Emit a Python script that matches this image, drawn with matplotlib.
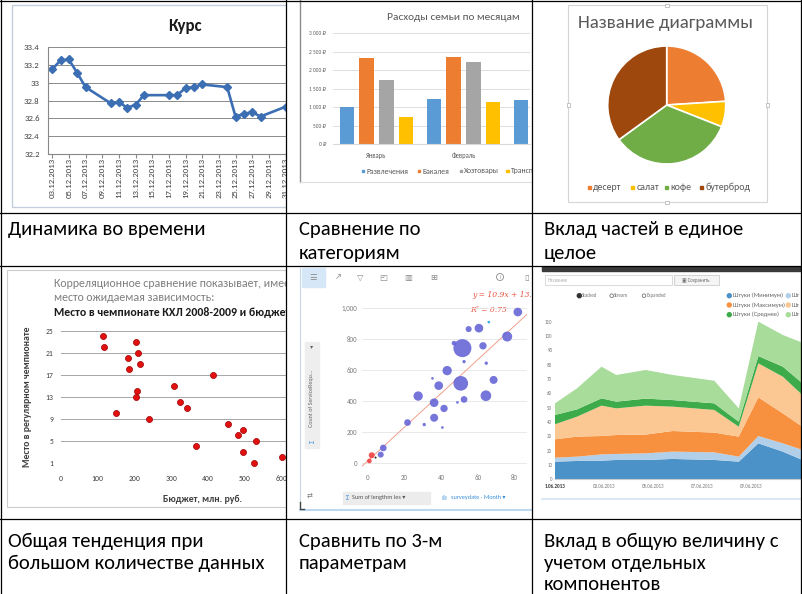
import numpy as np
import matplotlib.pyplot as plt
import matplotlib.transforms as mtransforms
from matplotlib import font_manager
from matplotlib.patches import Rectangle, Circle

W, H = 802, 594

# ---------- данные ----------
# 1. Курс
kurs_days = [3, 4, 5, 6, 7, 10, 11, 12, 13, 14, 17, 18, 19, 20, 21, 24, 25, 26, 27, 28, 31]
kurs_values = [33.15, 33.25, 33.26, 33.11, 32.95, 32.77, 32.78, 32.72, 32.75, 32.86, 32.86,
               32.86, 32.94, 32.95, 32.98, 32.95, 32.62, 32.65, 32.67, 32.62, 32.73]
kurs_label_days = list(range(3, 32, 2))

# 2. Расходы семьи по месяцам (None - столбец за краем картинки)
months = ['Январь', 'Февраль', 'Март']
expense_names = ['Развлечения', 'Бакалея', 'Хозтовары', 'Транспорт']
razvlecheniya = [990, 1230, 1185]
bakaleya = [2320, 2370, None]
hoztovary = [1735, 2225, None]
transport = [740, 1130, None]

# 3. Pie
pie_labels = ['десерт', 'салат', 'кофе', 'бутерброд']
pie_values = [24, 7, 34, 35]

# 4. КХЛ: бюджет и место
budget = [114, 118, 182, 186, 205, 211, 214, 206, 205, 150, 240, 309, 325, 343, 367, 414,
          455, 482, 497, 497, 532, 526, 602]
place = [24, 22, 20, 18, 23, 21, 19, 14, 13, 10, 9, 15, 12, 11, 4, 17, 8, 6, 7, 3, 5, 1, 2]

# 5. Bubble
bub_x = [81.8, 66, 60.6, 55, 76, 47, 51.6, 62.8, 52.5, 64.6, 43.3, 35.3, 38.7, 50.7, 68.6,
         27.5, 36.2, 48.9, 52.5, 64.4, 41.6, 36.2, 21.7, 30.8, 40.7, 8.5, 7.1, 2.2, 0.9, 4.3]
bub_y = [974, 909, 870, 864, 816, 773, 741, 756, 654, 644, 596, 546, 499, 514, 536,
         432, 389, 391, 410, 434, 352, 292, 261, 248, 229, 97, 54, 50, 13, 35]
bub_size = [13, 4, 13, 9, 15, 7, 27, 11, 5, 5, 14, 4, 13, 22, 12,
            14, 13, 4, 10, 16, 11, 12, 10, 5, 4, 10, 9, 9, 7, 3]
bub_group = ['b', 'c', 'b', 'b', 'b', 'b', 'b', 'b', 'b', 'b', 'b', 'b', 'b', 'b', 'b',
             'b', 'b', 'b', 'b', 'b', 'b', 'b', 'b', 'b', 'b', 'b', 'b', 'r', 'r', 'k']
trend_slope, trend_intercept = 10.9, 13

# 6. Stacked area
area_days = [1.0, 1.9, 2.9, 3.5, 4.7, 5.8, 7.5, 8.5, 9.3, 10.3, 11.1]
min_qty = [12.3, 12.8, 13.0, 13.5, 13.5, 14.2, 13.5, 12.3, 25.1, 19.3, 13.5]
min_qty2 = [2.8, 3.0, 4.4, 4.2, 4.6, 5.1, 5.3, 3.5, 5.1, 5.8, 7.0]
max_qty = [12.8, 14.0, 12.8, 13.2, 13.1, 14.4, 13.8, 14.0, 27.0, 20.9, 16.2]
max_qty2 = [10.5, 13.9, 21.2, 18.6, 20.2, 17.0, 15.8, 6.9, 23.7, 25.6, 22.1]
avg_qty = [6.5, 5.1, 5.1, 4.7, 4.9, 4.6, 4.6, 3.5, 5.1, 7.0, 8.2]
avg_qty2 = [8.1, 14.7, 22.1, 18.6, 20.0, 17.5, 15.8, 9.3, 24.0, 22.1, 28.3]
# правый столбец легенды на картинке обрезан краем: видно только «Шт»
area_legend = ['Штуки (Минимум)', 'Шт', 'Штуки (Максимум)', 'Шт', 'Штуки (Среднее)', 'Шт']
area_tick_days = [1, 3, 5, 7, 9]
area_tick_labels = ['1.06.2013', '03.06.2013', '05.06.2013', '07.06.2013', '09.06.2013']

# подписи таблицы
captions_top = [['Динамика во времени'], ['Сравнение по', 'категориям'], ['Вклад частей в единое', 'целое']]
captions_bottom = [['Общая тенденция при', 'большом количестве данных'], ['Сравнить по 3-м', 'параметрам'],
                   ['Вклад в общую величину с', 'учетом отдельных', 'компонентов']]

# ---------- шрифты ----------
installed = {f.name for f in font_manager.fontManager.ttflist}


def pick(*names):
    for n in names:
        if n in installed:
            return n
    return 'DejaVu Sans'


NARROW = pick('Carlito', 'Liberation Sans Narrow', 'Open Sans')
FAM = [NARROW, 'DejaVu Sans']
plt.rcParams['font.family'] = FAM

fig = plt.figure(figsize=(W / 100, H / 100), dpi=100)
fig.patch.set_facecolor('white')
renderer = fig.canvas.get_renderer()


def fit_size(text, width_px, weight='normal', family=None):
    t = fig.text(0, 0, text, fontsize=10, fontweight=weight, family=family or FAM)
    w = t.get_window_extent(renderer).width
    t.remove()
    return 10 * width_px / w


def px_ax(x0, y0, x1, y1):
    ax = fig.add_axes([x0 / W, 1 - y1 / H, (x1 - x0) / W, (y1 - y0) / H])
    ax.set_facecolor('none')
    return ax


def cell(x0, y0, x1, y1):
    ax = px_ax(x0, y0, x1, y1)
    ax.set_xlim(x0, x1)
    ax.set_ylim(y1, y0)
    ax.axis('off')
    return ax


def no_spines(ax, keep=()):
    for name, sp in ax.spines.items():
        sp.set_visible(name in keep)


# ---------- 1. Курс ----------
o1 = cell(0, 0, 286, 213)
o1.add_patch(Rectangle((12, 5), 300, 202, fill=False, ec='#c3cfdd', lw=1.0))
o1.text(185, 26, 'Курс', fontsize=fit_size('Курс', 34, 'bold'), fontweight='bold',
        ha='center', va='center', color='#1a1a1a')
ax1 = px_ax(48, 47, 286, 154)
ax1.plot(kurs_days, kurs_values, color='#3c6eb4', lw=1.9, marker='D', ms=3.8)
day_px = 25 / 3
ax1.set_xlim(2.5, 2.5 + 238 / day_px)
ax1.set_ylim(32.2, 33.4)
ax1.set_yticks(np.round(np.arange(32.2, 33.41, 0.2), 1))
ax1.yaxis.set_major_formatter(lambda v, p: f'{v:g}')
ax1.tick_params(axis='y', length=0, pad=6, labelsize=6.3, labelcolor='#404040')
ax1.set_xticks(kurs_label_days)
ax1.set_xticklabels([])
ax1.tick_params(axis='x', length=3, color='#888888')
ax1.grid(axis='y', color='#8a8a8a', lw=0.7)
no_spines(ax1, ('left', 'bottom'))
ax1.spines['left'].set_color('#888888')
ax1.spines['bottom'].set_color('#888888')
tr1 = mtransforms.blended_transform_factory(ax1.transData, o1.transData)
for d in kurs_label_days:
    o1.text(d, 158, f'{d:02d}.12.2013', transform=tr1, rotation=90, ha='center', va='top',
            fontsize=6.3, color='#404040', clip_on=True)

# ---------- 2. Расходы ----------
o2 = cell(286, 0, 532, 213)
o2.plot([300, 300], [0, 182], color='#8c8c8c', lw=1.0)
o2.plot([300, 532], [182, 182], color='#dddddd', lw=0.8)
o2.text(453, 18, 'Расходы семьи по месяцам', fontsize=fit_size('Расходы семьи по месяцам', 133),
        color='#595959', ha='center', va='center')
ax2 = px_ax(333, 33.3, 530, 144)
xs = np.arange(len(months))
bar_colors = ['#5b9bd5', '#ed7d31', '#a5a5a5', '#ffc000']
offsets = [-0.339, -0.113, 0.113, 0.339]
for vals, col, off in zip([razvlecheniya, bakaleya, hoztovary, transport], bar_colors, offsets):
    ax2.bar(xs + off, [np.nan if v is None else v for v in vals], width=0.172, color=col, zorder=2)
x2_right = -0.5 + 197 / 87
ax2.set_xlim(-0.5, x2_right)
ax2.set_ylim(0, 3000)
ax2.set_yticks(range(0, 3001, 500))
ax2.set_yticklabels([f'{v:,} ₽'.replace(',', ' ') for v in range(0, 3001, 500)])
ax2.tick_params(axis='y', length=0, pad=5, labelsize=3.9, labelcolor='#595959')
shown = [i for i in xs if i <= x2_right]
ax2.set_xticks(shown, [months[i] for i in shown])
ax2.tick_params(axis='x', length=0, pad=5.5, labelsize=fit_size('Январь', 20.5), labelcolor='#595959')
ax2.grid(axis='y', color='#d9d9d9', lw=0.6)
ax2.set_axisbelow(True)
no_spines(ax2, ('bottom',))
ax2.spines['bottom'].set_color('#d9d9d9')
leg2 = fit_size('Развлечения', 42)
for lx, name, col in zip([363.3, 419.3, 461, 507.7], expense_names, bar_colors):
    o2.add_patch(Rectangle((lx - 1.2, 169.8), 2.4, 2.4, color=col, clip_on=True))
    o2.text(lx + 3, 171, name, fontsize=leg2, color='#595959', va='center', clip_on=True)

# ---------- 3. Pie ----------
o3 = cell(532, 0, 802, 213)
o3.add_patch(Rectangle((568, 5), 199, 197, fill=False, ec='#d4d4d4', lw=0.8))
for hx, hy, hw, hh in [(665, 4, 4, 2.5), (566.5, 103, 3, 4), (765.5, 103, 3, 4), (665, 200.5, 4, 3)]:
    o3.add_patch(Rectangle((hx, hy), hw, hh, fc='white', ec='#bbbbbb', lw=0.6))
o3.text(666, 23, 'Название диаграммы', fontsize=fit_size('Название диаграммы', 177),
        color='#595959', ha='center', va='center')
ax3 = px_ax(666.7 - 59, 105 - 59, 666.7 + 59, 105 + 59)
pie_colors = ['#ed7d31', '#ffc000', '#70ad47', '#9e480e']
ax3.pie(pie_values, colors=pie_colors, startangle=90, counterclock=False,
        wedgeprops={'edgecolor': 'white', 'linewidth': 1.2})
ax3.set_xlim(-1, 1)
ax3.set_ylim(-1, 1)
leg3 = fit_size('бутерброд', 45)
for lx, name, col in zip([589.3, 632.7, 666.7, 701], pie_labels, pie_colors):
    o3.add_patch(Rectangle((lx - 1.5, 185.5), 3, 3, color=col))
    o3.text(lx + 4, 187, name, fontsize=leg3, color='#595959', va='center')

# ---------- 4. КХЛ ----------
o4 = cell(0, 266, 286, 519)
o4.add_patch(Rectangle((7, 270), 290, 237, fill=False, ec='#cccccc', lw=0.8))
s4 = fit_size('место ожидаемая зависимость:', 162)
o4.text(54, 283, 'Корреляционное сравнение показывает, имеет ли', fontsize=s4, color='#7f7f7f',
        va='center', clip_on=True)
o4.text(54, 297, 'место ожидаемая зависимость:', fontsize=s4, color='#7f7f7f', va='center', clip_on=True)
o4.text(54, 312, 'Место в чемпионате КХЛ 2008-2009 и бюджеты клубов',
        fontsize=fit_size('Место в чемпионате КХЛ 2008-2009 и бюдже', 231, 'bold'),
        fontweight='bold', color='#1a1a1a', va='center', clip_on=True)
ax4 = px_ax(61, 331, 286, 462.7)
ax4.scatter(budget, place, s=19, color='#e31010', edgecolor='#9a0000', lw=0.5, zorder=3, clip_on=False)
ax4.set_xlim(0, 225 / 0.367)
ax4.set_ylim(1, 25)
ax4.set_yticks(range(1, 26, 4))
ax4.set_xticks(range(0, 601, 100))
ax4.tick_params(length=0, labelsize=5.5, labelcolor='#404040')
ax4.tick_params(axis='y', pad=5.5)
ax4.tick_params(axis='x', pad=8.5)
ax4.grid(axis='y', color='#a6a6a6', lw=0.7)
no_spines(ax4)
o4.text(203, 499, 'Бюджет, млн. руб.', fontsize=fit_size('Бюджет, млн. руб.', 79, 'bold'),
        fontweight='bold', color='#404040', ha='center', va='center')
o4.text(28, 397, 'Место в регулярном чемпионате',
        fontsize=fit_size('Место в регулярном чемпионате', 140, 'bold'),
        fontweight='bold', color='#404040', ha='center', va='center', rotation=90)

# ---------- 5. Bubble ----------
o5 = cell(286, 266, 532, 519)
o5.plot([300, 300], [268, 502], color='#c8d8e8', lw=0.8)
o5.add_patch(Rectangle((302, 268), 23, 19, color='#d6e8f7'))
for ix, glyph in zip([313.3, 338.3, 360, 383.3, 408.3, 433.3, 526.7],
                     ['☰', '↗', '▽', '◰', '▥', '⊞', '▯']):
    o5.text(ix, 277, glyph, fontsize=6, color='#8a8a8a', ha='center', va='center',
            family='DejaVu Sans', clip_on=True)
o5.add_patch(Circle((500, 277), 3.5, fill=False, ec='#8a8a8a', lw=0.6))
o5.text(500, 277.3, 'i', fontsize=4, color='#8a8a8a', ha='center', va='center')
o5.add_patch(Rectangle((305, 342), 14, 106, color='#eeeeee'))
o5.text(312, 441, 'Σ', fontsize=5, color='#3a8fd9', ha='center', va='center', rotation=90)
o5.text(312, 398, 'Count of ServiceRequ...', fontsize=4.3, color='#666666', ha='center',
        va='center', rotation=90)
o5.text(312, 347, '▾', fontsize=4.5, color='#666666', ha='center', va='center', family='DejaVu Sans')
ax5 = px_ax(362, 300, 527, 470)
grp_color = {'b': '#6666d6', 'c': '#23a6e0', 'r': '#ee4040', 'k': '#111111'}
ax5.scatter(bub_x, bub_y, s=[(0.48 * r) ** 2 for r in bub_size], c=[grp_color[g] for g in bub_group],
            alpha=0.9, edgecolor='none', zorder=3)
tx = np.array([-4, 92])
ax5.plot(tx, trend_slope * tx + trend_intercept, color='#f2a08c', lw=0.7, zorder=2)
ax5.set_xlim(-5.7 / 1.84, 159.7 / 1.84)
ax5.set_ylim(-7 / 0.155, 163 / 0.155)
ax5.set_yticks(range(0, 1001, 200))
ax5.yaxis.set_major_formatter(lambda v, p: f'{int(v):,}')
ax5.set_xticks(range(0, 81, 20))
ax5.tick_params(length=0, labelsize=5, labelcolor='#808080')
ax5.tick_params(axis='y', pad=3.6)
ax5.tick_params(axis='x', pad=3)
ax5.grid(axis='y', color='#e5e5e5', lw=0.6)
ax5.set_axisbelow(True)
no_spines(ax5)
o5.text(472, 295, f'y = {trend_slope}x + {trend_intercept}.', fontsize=5.5, color='#e8503c',
        family='DejaVu Serif', style='italic', va='center', clip_on=True)
o5.text(470, 310, 'R² = 0.75', fontsize=5.5, color='#e8503c', family='DejaVu Serif',
        style='italic', va='center', clip_on=True)
o5.add_patch(Rectangle((343, 492), 87, 12, color='#ececec'))
o5.text(347, 498, 'Σ', fontsize=5, color='#3a8fd9', va='center', ha='center')
o5.text(352, 498, 'Sum of lengthm les ▾', fontsize=4.5, color='#555555', va='center')
o5.text(444, 498, 'ılı', fontsize=5, color='#3a8fd9', va='center', ha='center', family='DejaVu Sans')
o5.text(451, 498, 'surveydate - Month ▾', fontsize=4.5, color='#3a8fd9', va='center', clip_on=True)
o5.text(310, 497, '⇄', fontsize=5, color='#777777', va='center', ha='center', family='DejaVu Sans')
o5.plot([300, 532], [510, 510], color='#bcd7f0', lw=1.5)
o5.plot([300, 300, 304], [502, 509, 509], color='#444444', lw=1)

# ---------- 6. Stacked area ----------
o6 = cell(532, 266, 802, 519)
o6.add_patch(Rectangle((542, 266), 260, 5, color='#3a3a3a'))
o6.add_patch(Rectangle((545, 275), 127, 10, fc='white', ec='#d5d5d5', lw=0.6))
o6.text(548, 280, 'Название', fontsize=3.5, color='#b0b0b0', va='center')
o6.add_patch(Rectangle((674, 275), 45, 10, fc='#f5f5f5', ec='#cccccc', lw=0.6))
o6.text(696, 280, '▣ Сохранить', fontsize=3.5, color='#666666', va='center', ha='center')
o6.add_patch(Circle((579.3, 295.7), 2, color='#333333'))
for cx in [611.7, 644]:
    o6.add_patch(Circle((cx, 295.7), 1.8, fill=False, ec='#777777', lw=0.6))
for tx6, name in zip([582, 614, 646.7], ['Stacked', 'Stream', 'Expanded']):
    o6.text(tx6, 295.7, name, fontsize=3.5, color='#777777', va='center')
area_colors = ['#4b92c8', '#b2cfe9', '#f7913f', '#fbc894', '#3eab4a', '#a8dc9a']
leg6 = fit_size('Штуки (Максимум)', 52)
for k, name in enumerate(area_legend):
    lx = 729.3 if k % 2 == 0 else 788.3
    ly = [295.7, 305, 314.7][k // 2]
    o6.add_patch(Circle((lx, ly), 2, color=area_colors[k]))
    o6.text(lx + 3.4, ly, name, fontsize=leg6, color='#666666', va='center', clip_on=True)
ax6 = px_ax(555, 318.8, 802, 479.3)
ax6.stackplot(area_days, min_qty, min_qty2, max_qty, max_qty2, avg_qty, avg_qty2,
              colors=area_colors, lw=0)
ax6.set_xlim(1, 1 + 247 / 24.5)
ax6.set_ylim(0, 112)
ax6.set_yticks(range(0, 111, 10))
ax6.set_xticks(area_tick_days, area_tick_labels)
ax6.tick_params(length=0, labelsize=3.6, labelcolor='#777777')
ax6.tick_params(axis='y', pad=2)
ax6.tick_params(axis='x', pad=3.5)
ax6.get_xticklabels()[0].set_fontweight('bold')
ax6.get_xticklabels()[0].set_color('#333333')
no_spines(ax6, ('bottom',))
ax6.spines['bottom'].set_color('#cccccc')
o6.plot([542, 802], [499, 499], color='#d3e3f3', lw=1.2)

# ---------- таблица ----------
tab = cell(0, 0, W, H)
for x in [1, 286, 532, 800.5]:
    tab.plot([x, x], [0, H], color='black', lw=0.9, clip_on=False)
for y in [1, 213, 266, 519]:
    tab.plot([0, W], [y, y], color='black', lw=0.9, clip_on=False)
cap = fit_size('Динамика во времени', 199)
for col_x, lines in zip([8, 299, 544], captions_top):
    for i, line in enumerate(lines):
        tab.text(col_x, 230 + 23 * i, line, fontsize=cap, va='center', color='black')
for col_x, lines in zip([8, 299, 544], captions_bottom):
    for i, line in enumerate(lines):
        tab.text(col_x, 541 + 22 * i, line, fontsize=cap, va='center', color='black')

fig.savefig('out.png', dpi=100)
